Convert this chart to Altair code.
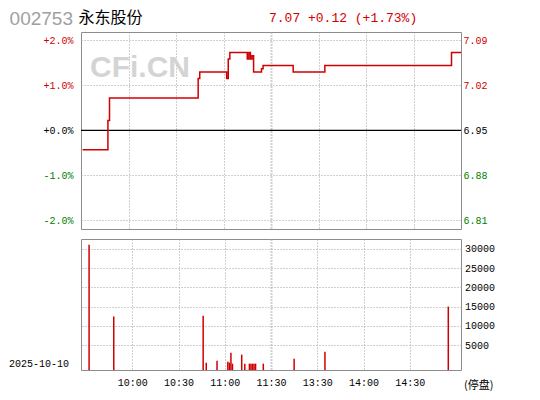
import altair as alt
import pandas as pd

PREV_CLOSE = 6.95

# price line: minute index after 9:30 (240 trading minutes) and price at that minute
line_minutes = [1, 17, 18, 74, 75, 92, 93, 94, 105, 106, 107, 108, 109, 114, 115, 134, 154, 234, 240]
line_prices = [6.92, 6.965, 7.00, 7.03, 7.04, 7.03, 7.06, 7.07, 7.06, 7.07, 7.06, 7.065, 7.04, 7.045, 7.05, 7.04, 7.05, 7.07, 7.07]

# volume bars
vol_minutes = [2, 18, 76, 78, 85, 92, 93, 94, 95, 101, 103, 106, 107, 108, 109, 110, 115, 135, 155, 235]
vol_values = [31100, 12400, 12600, 400, 900, 650, 400, 3000, 150, 2500, 150, 150, 150, 150, 150, 150, 150, 1400, 3250, 15000]

pct_ticks = [-2, -1, 0, 1, 2]
vol_ticks = [5000, 10000, 15000, 20000, 25000, 30000]
time_ticks = [30, 60, 90, 120, 150, 180, 210]
time_labels = ["10:00", "10:30", "11:00", "11:30", "13:30", "14:00", "14:30"]

code_text = "002753"
name_text = "永东股份"
quote_text = "7.07 +0.12 (+1.73%)"
date_text = "2025-10-10"
status_text = "(停盘)"
watermark_text = "CFi.CN"

RED = "#d00000"
GREEN = "#008000"
GRID = "#a0a0a0"
FRAME = "#8c8c8c"
MONO = "Liberation Mono"

line_df = pd.DataFrame({"minute": line_minutes, "price": line_prices})
line_df["pct"] = (line_df["price"] / PREV_CLOSE - 1) * 100
vol_df = pd.DataFrame({"minute": vol_minutes, "volume": vol_values})
one = pd.DataFrame({"k": [0]})

PCT_DOMAIN = [-2.193, 2.184]
VOL_MIN, VOL_MAX = -1510, 32604

color_cond = {"condition": [{"test": "datum.value > 0", "value": RED},
                            {"test": "datum.value < 0", "value": GREEN}],
              "value": "#000000"}
grid_w = {"condition": {"test": "datum.value == 120", "value": 2}, "value": 1}

x_top = alt.X("minute:Q", scale=alt.Scale(domain=[0, 240], nice=False, zero=False),
              axis=alt.Axis(values=time_ticks, grid=True, labels=False, ticks=False, domain=False,
                            title=None, gridColor=GRID, gridDash=[1, 2], gridWidth=grid_w))
pct_scale = alt.Scale(domain=PCT_DOMAIN, nice=False, zero=False)

line = alt.Chart(line_df).mark_line(interpolate="step-after", color=RED, strokeWidth=1.5).encode(
    x=x_top,
    y=alt.Y("pct:Q", scale=pct_scale,
            axis=alt.Axis(orient="left", values=pct_ticks, title=None, ticks=False, domain=False,
                          labelExpr="(datum.value >= 0 ? '+' : '-') + format(abs(datum.value), '.1f') + '%'",
                          labelColor=color_cond, labelPadding=8, grid=True, gridColor=GRID, gridDash=[1, 2])),
)
price_axis = alt.Chart(line_df).mark_line(opacity=0).encode(
    x=x_top,
    y=alt.Y("pct:Q", scale=pct_scale,
            axis=alt.Axis(orient="right", values=pct_ticks, title=None, ticks=False, domain=False,
                          labelExpr=f"format({PREV_CLOSE} * (1 + datum.value / 100), '.2f')",
                          labelColor=color_cond, labelPadding=2, grid=False)),
)
zero_rule = alt.Chart(one).mark_rule(color="#000000", strokeWidth=1.3).encode(
    y=alt.YDatum(0, scale=pct_scale, axis=None))
watermark = alt.Chart(one).mark_text(align="left", baseline="alphabetic", font="Liberation Sans",
                                     fontSize=30, fontWeight="bold", color="#d4d4d4").encode(
    x=alt.value(9), y=alt.value(44.5), text=alt.value(watermark_text))
anchor = alt.Chart(one).mark_rule(opacity=0, strokeWidth=0.01).encode(
    x=alt.value(-72), x2=alt.value(-62), y=alt.value(-23))
t_code = alt.Chart(one).mark_text(align="left", baseline="alphabetic", font="Liberation Sans",
                                  fontSize=19, color="#a0a0a0").encode(
    x=alt.value(-71.4), y=alt.value(-7), text=alt.value(code_text))
t_name = alt.Chart(one).mark_text(align="left", baseline="alphabetic", font="Noto Sans CJK SC",
                                  fontSize=16, color="#000000").encode(
    x=alt.value(-2.5), y=alt.value(-9.5), text=alt.value(name_text))
t_quote = alt.Chart(one).mark_text(align="left", baseline="alphabetic", font=MONO,
                                   fontSize=13, color=RED).encode(
    x=alt.value(188), y=alt.value(-10.3), text=alt.value(quote_text))

top = alt.layer(anchor, watermark, zero_rule, line, price_axis, t_code, t_name, t_quote).resolve_axis(
    y="independent").properties(width=380, height=197)

label_expr = "[" + ",".join(f"'{t}'" for t in time_labels) + "][datum.value / 30 - 1]"
x_bot = alt.X("minute:Q", scale=alt.Scale(domain=[0, 240], nice=False, zero=False),
              axis=alt.Axis(values=time_ticks, grid=True, ticks=False, domain=False, title=None,
                            labelExpr=label_expr, labelPadding=7, labelColor="#000000",
                            gridColor=GRID, gridDash=[1, 2], gridWidth=grid_w))
bars = alt.Chart(vol_df).mark_bar(width=1.5, color=RED).encode(
    x=x_bot,
    y=alt.Y("volume:Q", scale=alt.Scale(domain=[VOL_MIN, VOL_MAX], nice=False, zero=False),
            axis=alt.Axis(orient="right", values=vol_ticks, format="d", title=None, ticks=False,
                          domain=False, labelPadding=3.5, labelColor="#000000",
                          grid=True, gridColor=GRID, gridDash=[1, 2])),
    y2=alt.datum(VOL_MIN),
)
t_date = alt.Chart(one).mark_text(align="left", baseline="middle", font=MONO, fontSize=10,
                                  color="#000000").encode(
    x=alt.value(-72), y=alt.value(124.7), text=alt.value(date_text))
t_status = alt.Chart(one).mark_text(align="left", baseline="middle", font="Noto Sans CJK SC",
                                    fontSize=11, color="#000000").encode(
    x=alt.value(383), y=alt.value(146.5), text=alt.value(status_text))

bottom = alt.layer(bars, t_date, t_status).properties(width=380, height=131)

chart = alt.vconcat(top, bottom, spacing=10, bounds="flush").properties(
    padding={"left": 0, "top": 0, "right": 0, "bottom": 0}
).configure_view(stroke=FRAME, strokeWidth=1).configure_axis(
    labelFont=MONO, labelFontSize=10
)

chart.save("out.html", embed_options={"renderer": "svg", "actions": False})
